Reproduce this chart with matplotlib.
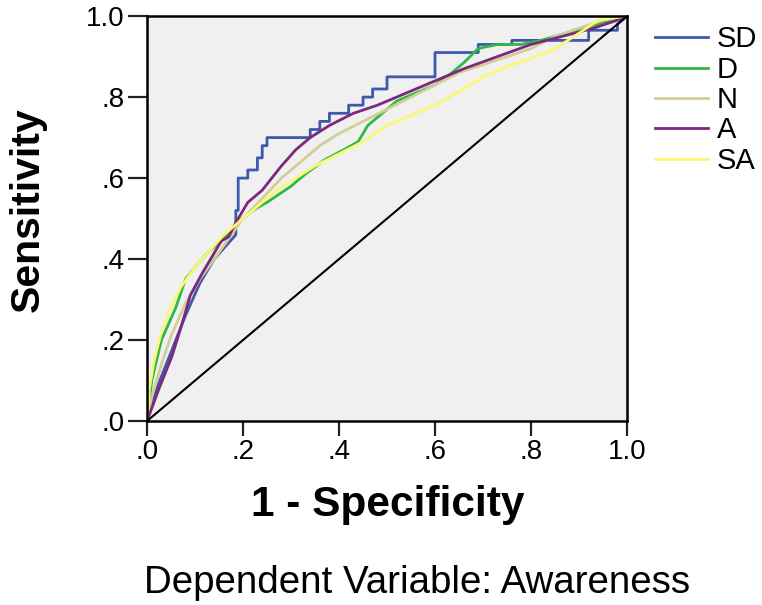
import matplotlib
matplotlib.use("Agg")
import matplotlib.pyplot as plt

plt.rcParams['font.family'] = ['Liberation Sans', 'DejaVu Sans']

# ROC curves by awareness level (1 - specificity, sensitivity)
sd_x = [0, 0.02, 0.05, 0.08, 0.11, 0.14, 0.17, 0.185, 0.185, 0.19, 0.19, 0.21, 0.21, 0.23, 0.23,
        0.24, 0.24, 0.25, 0.25, 0.34, 0.34, 0.36, 0.36, 0.38, 0.38, 0.42, 0.42, 0.45, 0.45, 0.47,
        0.47, 0.50, 0.50, 0.60, 0.60, 0.69, 0.69, 0.76, 0.76, 0.92, 0.92, 0.98, 0.98, 1.0]
sd_y = [0, 0.08, 0.17, 0.26, 0.34, 0.40, 0.44, 0.46, 0.52, 0.52, 0.60, 0.60, 0.62, 0.62, 0.65,
        0.65, 0.68, 0.68, 0.70, 0.70, 0.72, 0.72, 0.74, 0.74, 0.76, 0.76, 0.78, 0.78, 0.80, 0.80,
        0.82, 0.82, 0.85, 0.85, 0.91, 0.91, 0.93, 0.93, 0.94, 0.94, 0.965, 0.965, 0.98, 1.0]

d_x = [0, 0.01, 0.03, 0.06, 0.08, 0.10, 0.13, 0.16, 0.19, 0.22, 0.25, 0.30, 0.33, 0.37, 0.41,
       0.44, 0.46, 0.49, 0.52, 0.56, 0.60, 0.63, 0.66, 0.69, 0.73, 0.78, 0.82, 0.88, 0.94, 1.0]
d_y = [0, 0.10, 0.20, 0.28, 0.35, 0.38, 0.42, 0.45, 0.49, 0.52, 0.54, 0.58, 0.61, 0.645, 0.67,
       0.69, 0.73, 0.76, 0.79, 0.81, 0.83, 0.855, 0.885, 0.92, 0.93, 0.93, 0.94, 0.96, 0.98, 1.0]

n_x = [0, 0.01, 0.03, 0.05, 0.08, 0.11, 0.14, 0.17, 0.20, 0.24, 0.28, 0.32, 0.36, 0.40, 0.45,
       0.50, 0.55, 0.60, 0.65, 0.70, 0.75, 0.80, 0.85, 0.90, 0.95, 1.0]
n_y = [0, 0.06, 0.14, 0.21, 0.29, 0.35, 0.40, 0.45, 0.50, 0.55, 0.60, 0.64, 0.68, 0.71, 0.74,
       0.77, 0.80, 0.83, 0.86, 0.88, 0.90, 0.92, 0.95, 0.97, 0.99, 1.0]

a_x = [0, 0.025, 0.052, 0.073, 0.09, 0.115, 0.135, 0.155, 0.17, 0.185, 0.20, 0.21, 0.24, 0.26,
       0.28, 0.31, 0.34, 0.38, 0.43, 0.48, 0.52, 0.56, 0.60, 0.66, 0.73, 0.80, 0.865, 0.93, 0.98, 1.0]
a_y = [0, 0.08, 0.16, 0.24, 0.31, 0.365, 0.405, 0.445, 0.455, 0.49, 0.52, 0.54, 0.57, 0.60,
       0.63, 0.67, 0.70, 0.73, 0.76, 0.78, 0.80, 0.82, 0.84, 0.87, 0.90, 0.93, 0.95, 0.97, 0.99, 1.0]

sa_x = [0, 0.005, 0.015, 0.03, 0.05, 0.07, 0.10, 0.13, 0.16, 0.19, 0.23, 0.27, 0.31, 0.35, 0.40,
        0.45, 0.50, 0.55, 0.60, 0.66, 0.70, 0.75, 0.80, 0.85, 0.89, 0.94, 1.0]
sa_y = [0, 0.08, 0.15, 0.22, 0.28, 0.33, 0.38, 0.42, 0.46, 0.49, 0.53, 0.57, 0.60, 0.63, 0.66,
        0.69, 0.73, 0.755, 0.78, 0.82, 0.85, 0.875, 0.895, 0.92, 0.95, 0.99, 1.0]

labels = ['SD', 'D', 'N', 'A', 'SA']
colors = ['#3e58ac', '#2eb848', '#d3ce97', '#7c287d', '#fbf873']
ticks = [0, 0.2, 0.4, 0.6, 0.8, 1.0]
tick_labels = ['.0', '.2', '.4', '.6', '.8', '1.0']

fig = plt.figure(figsize=(7.62, 6.05), dpi=100)
ax = fig.add_axes([0.1929, 0.304, 0.630, 0.6694])
ax.set_facecolor('#f0f0f0')

curves = [(sd_x, sd_y), (d_x, d_y), (n_x, n_y), (a_x, a_y), (sa_x, sa_y)]
for (xs, ys), lab, col in zip(curves, labels, colors):
    ax.plot(xs, ys, color=col, linewidth=2.0, label=lab)

# reference line
ax.plot([0, 1], [0, 1], color='black', linewidth=1.5)

ax.set_xlim(0, 1)
ax.set_ylim(0, 1)
ax.set_xticks(ticks)
ax.set_xticklabels(tick_labels)
ax.set_yticks(ticks)
ax.set_yticklabels(tick_labels)
ax.tick_params(axis='both', labelsize=20, width=1.6, color='#222222')
ax.tick_params(axis='x', length=11, pad=2)
ax.tick_params(axis='y', length=14, pad=2)
for s in ax.spines.values():
    s.set_linewidth(1.8)

fig.text(0.509, 0.165, '1 - Specificity', fontsize=30.5, fontweight='bold',
         ha='center', va='center')
fig.text(0.036, 0.653, 'Sensitivity', fontsize=29.5, fontweight='bold',
         rotation=90, ha='center', va='center')
fig.text(0.547, 0.036, 'Dependent Variable: Awareness', fontsize=27.7,
         ha='center', va='center')

fig.legend(loc='upper left', bbox_to_anchor=(0.86, 0.958), frameon=False,
           fontsize=21, handlelength=1.8, handletextpad=0.3, labelspacing=0.08,
           borderaxespad=0, borderpad=0)

fig.savefig('out.png', dpi=100)
